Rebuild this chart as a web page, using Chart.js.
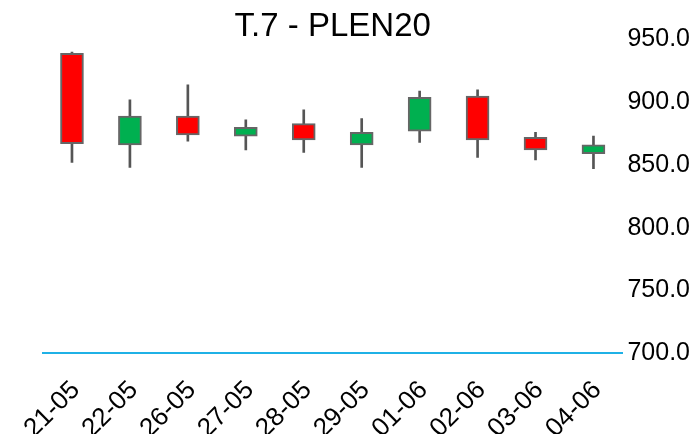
<!DOCTYPE html>
<html>
<head>
<meta charset="utf-8">
<script src="https://cdn.jsdelivr.net/npm/chart.js@4"></script>
<style>
html,body{margin:0;padding:0;background:#fff;}
#wrap{width:698px;height:434px;}
</style>
</head>
<body>
<div id="wrap"><canvas id="c" width="698" height="434"></canvas></div>
<script>
const categories = ['21-05','22-05','26-05','27-05','28-05','29-05','01-06','02-06','03-06','04-06'];
const opens  = [939, 866, 889, 873, 883, 866, 877, 905, 872, 859];
const closes = [867, 889, 874, 880, 870, 876, 904, 870, 862, 866];
const highs  = [940, 902, 914, 886, 894, 887, 909, 910, 876, 873];
const lows   = [852, 848, 869, 862, 860, 848, 868, 856, 854, 847];
const yTicks = [700, 750, 800, 850, 900, 950];

const bodies = categories.map((c, i) => [opens[i], closes[i]]);
const wicks = categories.map((c, i) => [lows[i], highs[i]]);
const bodyColors = categories.map((c, i) => closes[i] >= opens[i] ? '#00b050' : '#ff0000');

const titleShift = {
  id: 'titleShift',
  afterLayout(chart) {
    const t = chart.titleBlock;
    if (t) { t.left = chart.chartArea.left; t.right = chart.chartArea.right; }
  }
};

Chart.defaults.font.family = '"Liberation Sans", Arial, sans-serif';
Chart.defaults.color = '#000';

new Chart(document.getElementById('c'), {
  type: 'bar',
  data: {
    labels: categories,
    datasets: [
      {
        label: 'wick',
        data: wicks,
        backgroundColor: '#555555',
        borderWidth: 0,
        barThickness: 2,
        grouped: false,
        order: 2
      },
      {
        label: 'body',
        data: bodies,
        backgroundColor: bodyColors,
        borderColor: '#666666',
        borderWidth: 2,
        borderSkipped: false,
        barThickness: 23,
        grouped: false,
        order: 1
      }
    ]
  },
  options: {
    responsive: false,
    animation: false,
    layout: { padding: { left: 43, right: 3, top: 0, bottom: 0 } },
    plugins: {
      legend: { display: false },
      tooltip: { enabled: false },
      title: {
        display: true,
        text: 'T.7 - PLEN20',
        font: { size: 33, weight: 'normal' },
        color: '#000',
        padding: { top: 7, bottom: -7 }
      }
    },
    scales: {
      x: {
        offset: true,
        grid: { display: false, drawTicks: false },
        border: { display: true, color: '#1fb1e6', width: 2 },
        afterFit(scale) { scale.height = 81; },
        ticks: {
          maxRotation: 45,
          minRotation: 45,
          font: { size: 26 },
          color: '#000',
          padding: 22,
          labelOffset: 4
        }
      },
      y: {
        position: 'right',
        min: yTicks[0],
        max: yTicks[yTicks.length - 1],
        afterBuildTicks(scale) { scale.ticks = yTicks.map(v => ({ value: v })); },
        grid: { display: false, drawTicks: false },
        border: { display: false },
        ticks: {
          font: { size: 25 },
          color: '#000',
          padding: 5,
          callback: v => Number(v).toFixed(1)
        }
      }
    }
  },
  plugins: [titleShift]
});
</script>
</body>
</html>
